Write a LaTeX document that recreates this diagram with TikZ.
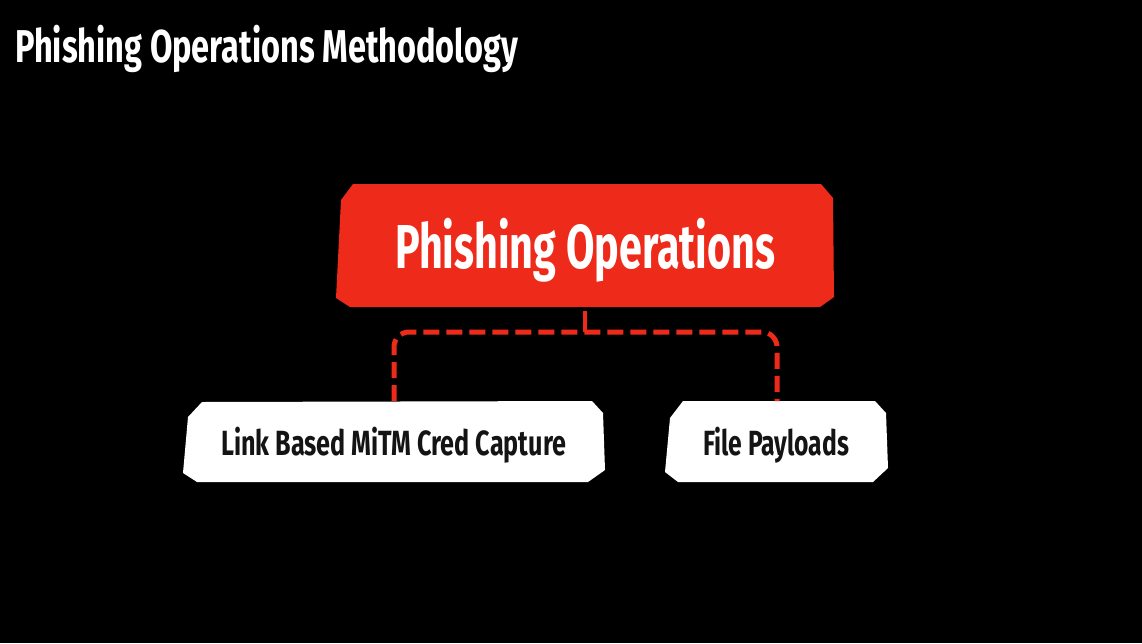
\documentclass[tikz,border=0pt]{standalone}
\usepackage{fontspec}
\usepackage{graphicx}
\setmainfont{Fira Sans}
\newfontfamily\dispfont{Fira Sans}
\definecolor{phred}{RGB}{238,43,26}
\definecolor{phink}{RGB}{20,20,20}
\newcommand{\fitw}[3]{\resizebox{#1}{\height}{\fontsize{#2}{#2}\selectfont\dispfont\bfseries #3}}
\tikzset{
  lbl/.style={inner sep=0pt, anchor=base west},
  redbox/.style={fill=phred},
  whitebox/.style={fill=white},
  dashline/.style={draw=phred, line width=5pt, dash pattern=on 16pt off 7pt, rounded corners=15pt},
  stubline/.style={draw=phred, line width=4.5pt}
}
\begin{document}
\begin{tikzpicture}[x=1pt,y=-1pt]
\fill[black] (0,0) rectangle (1142,643);
\useasboundingbox (0,0) rectangle (1142,643);
% title
\node[lbl, text=white] (title) at (15,62) {\fitw{503pt}{46pt}{Phishing Operations Methodology}};
% boxes
\fill[redbox] (353,184) -- (821,184) -- (833,198) -- (834,297) -- (820,307) -- (350,307) -- (336,298) -- (341,200) -- cycle;
\fill[whitebox] (202,402) -- (592,401) -- (603,413) -- (605,470) -- (588,482) -- (197,482) -- (183,473) -- (188,417) -- cycle;
\fill[whitebox] (683,401) -- (875,401) -- (886,413) -- (888,468) -- (873,482) -- (678,482) -- (665,472) -- (670,418) -- cycle;
% labels
\node[lbl, text=white] (mainlbl) at (395,268) {\fitw{380pt}{62pt}{Phishing Operations}};
\node[lbl, text=phink] (linklbl) at (221,455) {\fitw{345pt}{35pt}{Link Based MiTM Cred Capture}};
\node[lbl, text=phink] (filelbl) at (703,455) {\fitw{146pt}{35pt}{File Payloads}};
% connector points
\coordinate (mainb) at (585,311);
\coordinate (hub) at (585,332);
\coordinate (linkt) at (394,401);
\coordinate (filet) at (777,401);
\draw[stubline] (mainb) -- (hub);
\draw[dashline] (linkt) |- (hub) -| (filet);
\end{tikzpicture}
\end{document}
